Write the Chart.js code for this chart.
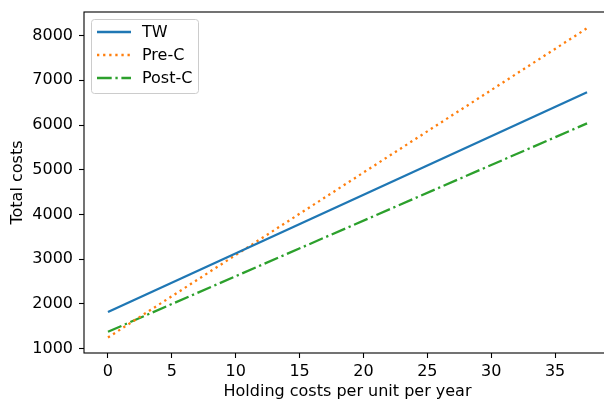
<!DOCTYPE html>
<html>
<head>
<meta charset="utf-8">
<script src="https://cdn.jsdelivr.net/npm/chart.js@4/dist/chart.umd.min.js"></script>
<style>
  html, body { margin: 0; padding: 0; background: #fff; overflow: hidden; }
  #wrap { width: 604px; height: 401px; overflow: hidden; }
</style>
</head>
<body>
<div id="wrap"><canvas id="costChart" width="616" height="401"></canvas></div>
<script>
// holding cost per unit per year (x) and total costs for each policy
const holdingCost = [0, 37.5];
const twCosts = [1822, 6733];
const preCCosts = [1251, 8164];
const postCCosts = [1378, 6038];

const xTicks = [0, 5, 10, 15, 20, 25, 30, 35];
const yTicks = [1000, 2000, 3000, 4000, 5000, 6000, 7000, 8000];

const FONT = { family: 'DejaVu Sans', size: 16, lineHeight: 1.2 };

function points(ys) {
  return holdingCost.map((x, i) => ({ x: x, y: ys[i] }));
}

// drop the extra room Chart.js reserves for overhanging tick labels
function fixSize(w, h) {
  return function (scale) {
    if (w) scale.width = w;
    if (h) scale.height = h;
    scale.paddingTop = 0;
    scale.paddingBottom = 0;
    scale.paddingLeft = 0;
    scale.paddingRight = 0;
  };
}

// frame around the plot area plus a boxed legend in the upper left
const framePlugin = {
  id: 'frame',
  afterDraw(chart) {
    const { ctx, chartArea: a } = chart;
    ctx.save();
    ctx.strokeStyle = '#000';
    ctx.lineWidth = 1.1;
    ctx.strokeRect(a.left, a.top, a.right - a.left, a.bottom - a.top);

    // legend box
    const bx = 91, by = 19, bw = 107, bh = 74;
    ctx.beginPath();
    ctx.roundRect(bx + 0.5, by + 0.5, bw, bh, 3);
    ctx.fillStyle = 'rgba(255,255,255,0.8)';
    ctx.fill();
    ctx.strokeStyle = '#cccccc';
    ctx.lineWidth = 1;
    ctx.stroke();

    ctx.font = FONT.size + 'px ' + FONT.family;
    ctx.textBaseline = 'middle';
    ctx.textAlign = 'left';
    chart.data.datasets.forEach((ds, i) => {
      const y = 32 + i * 23;
      ctx.beginPath();
      ctx.setLineDash(ds.borderDash || []);
      ctx.strokeStyle = ds.borderColor;
      ctx.lineWidth = ds.borderWidth;
      ctx.moveTo(97, y);
      ctx.lineTo(131, y);
      ctx.stroke();
      ctx.setLineDash([]);
      ctx.fillStyle = '#000';
      ctx.fillText(ds.label, 142, y + 1);
    });
    ctx.restore();
  }
};

new Chart(document.getElementById('costChart'), {
  type: 'line',
  data: {
    datasets: [
      {
        label: 'TW',
        data: points(twCosts),
        borderColor: '#1f77b4',
        borderWidth: 2.3,
        pointRadius: 0
      },
      {
        label: 'Pre-C',
        data: points(preCCosts),
        borderColor: '#ff7f0e',
        borderWidth: 2.3,
        borderDash: [2.3, 3.8],
        pointRadius: 0
      },
      {
        label: 'Post-C',
        data: points(postCCosts),
        borderColor: '#2ca02c',
        borderWidth: 2.3,
        borderDash: [14.7, 3.7, 2.3, 3.7],
        pointRadius: 0
      }
    ]
  },
  options: {
    responsive: false,
    animation: false,
    devicePixelRatio: 1,
    layout: { padding: { top: 12, right: 5, left: 0, bottom: 0 } },
    plugins: {
      legend: { display: false },
      tooltip: { enabled: false }
    },
    scales: {
      x: {
        type: 'linear',
        min: -1.875,
        max: 39.375,
        afterFit: fixSize(0, 48),
        afterBuildTicks(scale) { scale.ticks = xTicks.map(v => ({ value: v })); },
        border: { display: false },
        grid: { drawOnChartArea: false, tickLength: 5, tickColor: '#000', tickWidth: 1.1 },
        ticks: { color: '#000', font: FONT, padding: 4, maxRotation: 0, callback: v => String(v) },
        title: {
          display: true,
          text: 'Holding costs per unit per year',
          color: '#000',
          font: FONT,
          padding: { top: 0, bottom: 0 }
        }
      },
      y: {
        type: 'linear',
        min: 904,
        max: 8527,
        afterFit: fixSize(84, 0),
        afterBuildTicks(scale) { scale.ticks = yTicks.map(v => ({ value: v })); },
        border: { display: false },
        grid: { drawOnChartArea: false, tickLength: 5, tickColor: '#000', tickWidth: 1.1 },
        ticks: { color: '#000', font: FONT, padding: 6, callback: v => String(v) },
        title: {
          display: true,
          text: 'Total costs',
          color: '#000',
          font: FONT,
          padding: { top: 8, bottom: 0 }
        }
      }
    }
  },
  plugins: [framePlugin]
});
</script>
</body>
</html>
